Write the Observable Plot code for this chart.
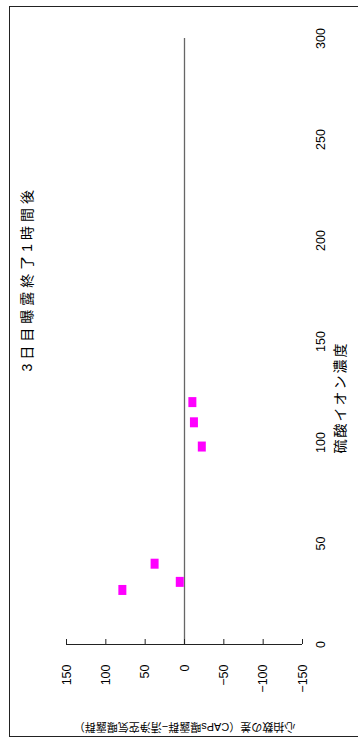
<!DOCTYPE html>
<html>
<head>
<meta charset="utf-8">
<script src="https://cdn.jsdelivr.net/npm/d3@7"></script>
<script src="https://cdn.jsdelivr.net/npm/@observablehq/plot@0.6"></script>
<style>
  html, body { margin: 0; padding: 0; background: #fff; }
  #wrap { position: relative; width: 358px; height: 738px; overflow: hidden; }
  #wrap svg { position: absolute; left: 0; top: 0; }
  #border { position: absolute; left: 9px; top: 6px; width: 360px; height: 731px;
            border: 1px solid #222; box-sizing: border-box; pointer-events: none; }
</style>
</head>
<body>
<div id="wrap"><div id="border"></div></div>
<script>
// Sulfate ion concentration and the heart-rate difference measured at each level
const sulfate = [27, 31, 40, 98, 110, 120];
const heartRateDiff = [79, 6, 38, -22, -12, -10];

const sulfateTicks = [0, 50, 100, 150, 200, 250, 300];
const diffTicks = [150, 100, 50, 0, -50, -100, -150];

const titleText = "3日目曝露終了1時間後";
const sulfateLabel = "硫酸イオン濃度";
const diffLabel = "心拍数の差（CAPs曝露群−清浄空気曝露群）";

const points = sulfate.map((s, i) => ({sulfate: s, diff: heartRateDiff[i]}));

// Slightly tall rectangular marker
const rectSymbol = {
  draw(context, size) {
    const s = Math.sqrt(size / Math.PI);
    context.rect(-0.8 * s, -s, 1.6 * s, 2 * s);
  }
};

const font = "'Liberation Sans', Arial, 'Noto Sans CJK JP', sans-serif";
const tickLen = 5;

const chart = Plot.plot({
  width: 358,
  height: 738,
  marginLeft: 66,
  marginRight: 56,
  marginTop: 38,
  marginBottom: 94,
  style: {fontFamily: font, fontSize: "12px", background: "transparent", color: "#000"},
  x: {domain: [150, -150]},
  y: {domain: [0, 300]},
  marks: [
    // concentration axis line through zero difference
    Plot.ruleX([0], {stroke: "#666", strokeWidth: 1.3}),
    // difference axis line at zero concentration
    Plot.ruleY([0], {stroke: "#222", strokeWidth: 1}),
    // short inward tick marks on the difference axis (only the first dash of each rule shows)
    Plot.ruleX(diffTicks, {y1: 0, y2: 300, stroke: "#222", strokeWidth: 1,
                           strokeDasharray: `${tickLen} 2000`}),
    Plot.axisX(diffTicks, {anchor: "bottom", tickSize: 0, tickPadding: 20, tickRotate: -90,
                           label: null, fontSize: 12.5, fill: "#000"}),
    Plot.axisY(sulfateTicks, {anchor: "right", tickSize: 0, tickPadding: 18, tickRotate: -90,
                              lineAnchor: "middle", textAnchor: "middle", label: null, fontSize: 12.5, fill: "#000"}),
    Plot.dot(points, {x: "diff", y: "sulfate", symbol: rectSymbol, r: 5, fill: "#ff00ff", stroke: "none"}),
    Plot.text([titleText], {frameAnchor: "left", rotate: -90, dx: -39, dy: 30, fontSize: 14, fill: "#000"}),
    Plot.text([sulfateLabel], {frameAnchor: "right", rotate: -90, dx: 38, fontSize: 14, fill: "#000"}),
    Plot.text([diffLabel], {frameAnchor: "bottom", rotate: 180, dy: 78, fontSize: 11, fill: "#000"})
  ]
});

// extra spacing between the characters of the Japanese titles
d3.select(chart).selectAll("text").each(function () {
  const t = this.textContent;
  if (t === titleText) this.style.letterSpacing = "4px";
  else if (t === sulfateLabel) this.style.letterSpacing = "2px";
});

document.getElementById("wrap").prepend(chart);
</script>
</body>
</html>
